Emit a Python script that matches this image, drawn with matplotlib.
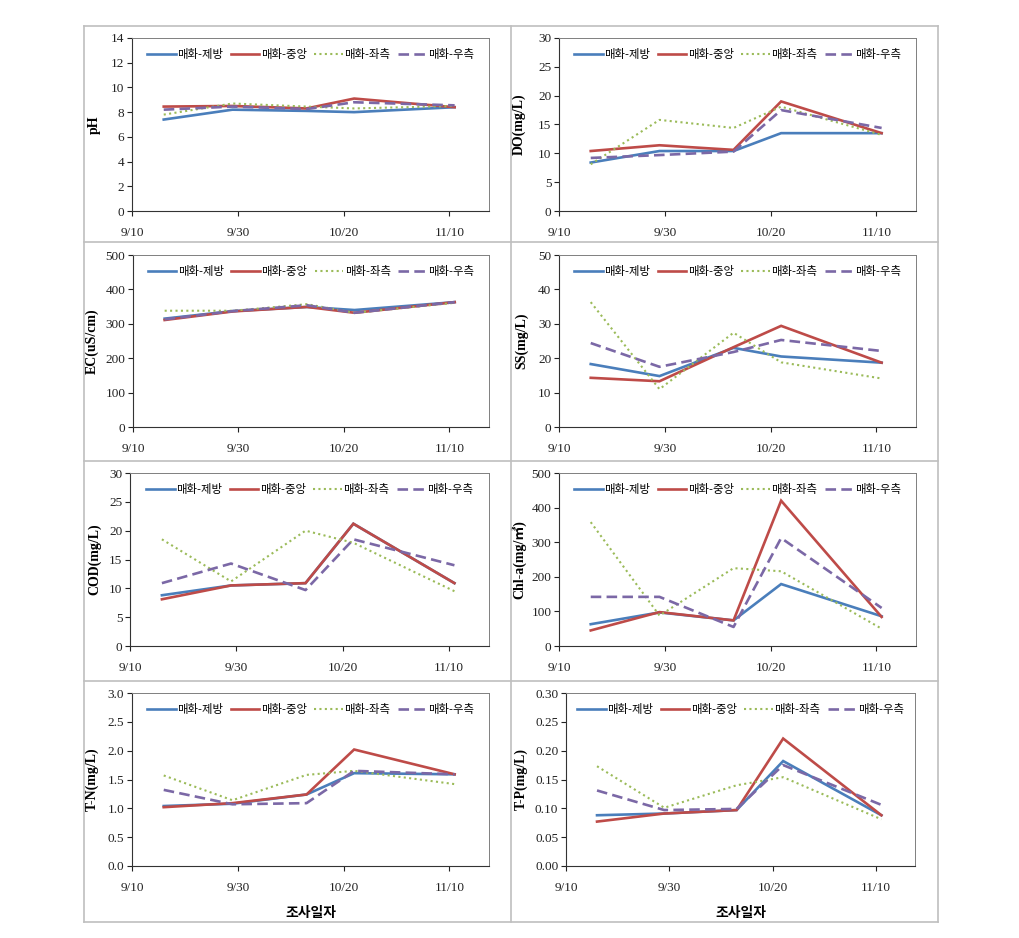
import matplotlib.pyplot as plt
from matplotlib.lines import Line2D
from matplotlib.ticker import FormatStrFormatter

# ── Sampling days (days after 9/10) and site names ──
days = [6, 19, 33, 42, 61]
tick_days = [0, 20, 40, 60]
tick_labels = ["9/10", "9/30", "10/20", "11/10"]
sites = ["매화-제방", "매화-중앙", "매화-좌측", "매화-우측"]

# ── Measured values per parameter (제방, 중앙, 좌측, 우측) ──
ph = [
    [7.4, 8.2, 8.1, 8.0, 8.4],
    [8.45, 8.5, 8.3, 9.1, 8.4],
    [7.8, 8.7, 8.45, 8.3, 8.5],
    [8.2, 8.45, 8.25, 8.8, 8.55],
]
do = [
    [8.4, 10.4, 10.4, 13.5, 13.5],
    [10.4, 11.4, 10.6, 19.0, 13.5],
    [8.1, 15.8, 14.4, 18.1, 13.2],
    [9.2, 9.7, 10.3, 17.5, 14.4],
]
ec = [
    [315, 337, 349, 340, 363],
    [311, 336, 349, 332, 363],
    [338, 338, 357, 332, 361],
    [313, 337, 354, 332, 363],
]
ss = [
    [18.3, 14.8, 23.0, 20.5, 18.7],
    [14.3, 13.3, 23.2, 29.4, 18.7],
    [36.3, 11.0, 27.4, 18.8, 14.1],
    [24.4, 17.5, 21.8, 25.3, 22.1],
]
cod = [
    [8.8, 10.5, 10.9, 21.2, 10.9],
    [8.1, 10.5, 10.9, 21.2, 10.9],
    [18.5, 11.2, 20.0, 17.9, 9.5],
    [10.9, 14.3, 9.7, 18.5, 14.0],
]
chla = [
    [63, 97, 74, 179, 86],
    [45, 98, 74, 420, 84],
    [358, 88, 225, 216, 50],
    [142, 142, 55, 312, 110],
]
tn = [
    [1.04, 1.08, 1.24, 1.61, 1.59],
    [1.02, 1.09, 1.24, 2.02, 1.59],
    [1.57, 1.14, 1.58, 1.65, 1.42],
    [1.32, 1.07, 1.09, 1.65, 1.59],
]
tp = [
    [0.088, 0.091, 0.097, 0.182, 0.088],
    [0.077, 0.091, 0.097, 0.221, 0.088],
    [0.173, 0.101, 0.140, 0.154, 0.081],
    [0.131, 0.097, 0.099, 0.175, 0.106],
]

# ── Excel-like styles for the four sites ──
colors = ["#4A7EBB", "#BE4B48", "#9BBB59", "#7B68A6"]
styles = [
    dict(linestyle="-", linewidth=1.9),
    dict(linestyle="-", linewidth=1.9),
    dict(linestyle=(0, (1, 1.6)), linewidth=1.5),
    dict(linestyle=(0, (4, 2)), linewidth=1.9),
]

W, H = 1019, 938
fig = plt.figure(figsize=(W / 100, H / 100), dpi=100)

serif = ["Liberation Serif", "Noto Sans CJK KR"]
korean = ["Noto Sans CJK KR", "DejaVu Sans"]


def px_axes(left, top, right, bottom):
    return fig.add_axes([left / W, 1 - bottom / H, (right - left) / W, (bottom - top) / H])


# (box, series, ylabel, ymax, ystep, fmt, label x in px)
panels = [
    ((132, 38, 489, 211), ph, "pH", 14, 2, "%d", 101),
    ((559, 38, 916, 211), do, "DO(mg/L)", 30, 5, "%d", 526),
    ((133, 255, 489, 427), ec, "EC(uS/cm)", 500, 100, "%d", 99),
    ((559, 255, 916, 427), ss, "SS(mg/L)", 50, 10, "%d", 528),
    ((130, 473, 489, 646), cod, "COD(mg/L)", 30, 5, "%d", 101),
    ((559, 473, 916, 646), chla, "Chl-a(mg/㎥)", 500, 100, "%d", 526),
    ((132, 693, 489, 866), tn, "T-N(mg/L)", 3.0, 0.5, "%.1f", 99),
    ((566, 693, 915, 866), tp, "T-P(mg/L)", 0.30, 0.05, "%.2f", 528),
]

for idx, (box, series, ylabel, ymax, ystep, fmt, lab_x) in enumerate(panels):
    ax = px_axes(*box)
    for vals, name, c, st in zip(series, sites, colors, styles):
        ax.plot(days, vals, color=c, label=name, solid_joinstyle="miter", **st)

    ax.set_xlim(0, 67.5)
    ax.set_ylim(0, ymax)
    n = int(round(ymax / ystep))
    ax.set_yticks([ystep * i for i in range(n + 1)])
    ax.yaxis.set_major_formatter(FormatStrFormatter(fmt))
    ax.set_xticks(tick_days)
    ax.set_xticklabels(tick_labels)
    ax.tick_params(axis="both", direction="out", length=3.5, width=0.8,
                   labelsize=9.5, pad=2, colors="#222222")
    for lab in ax.get_xticklabels() + ax.get_yticklabels():
        lab.set_family(serif)
    ax.tick_params(axis="x", pad=8)

    for side in ["left", "bottom"]:
        ax.spines[side].set_color("#333333")
        ax.spines[side].set_linewidth(0.8)
    for side in ["top", "right"]:
        ax.spines[side].set_color("#7F7F7F")
        ax.spines[side].set_linewidth(0.7)

    ax.set_ylabel(ylabel, fontsize=10, fontweight="bold", family=serif)
    left, top, right, bottom = box
    ax.yaxis.set_label_coords((lab_x - left) / (right - left), 0.5)

    ax.legend(loc="center", bbox_to_anchor=(0.5, 0.905), ncol=4, frameon=False,
              prop={"family": korean, "size": 8.2}, handlelength=2.5,
              handletextpad=0.15, columnspacing=0.65, borderaxespad=0)

    if idx >= 6:
        ax.set_xlabel("조사일자", fontsize=10, fontweight="bold", family=korean, labelpad=9)

# ── Light gray table frame around the panels ──
frame_c = "#BFBFBF"
xs = [84, 511, 938]
ys = [26, 242, 461, 681, 922]
for x in xs:
    fig.add_artist(Line2D([x / W, x / W], [1 - ys[0] / H, 1 - ys[-1] / H],
                          color=frame_c, linewidth=1.2))
for y in ys:
    fig.add_artist(Line2D([xs[0] / W, xs[-1] / W], [1 - y / H, 1 - y / H],
                          color=frame_c, linewidth=1.2))

plt.savefig("out.png", dpi=100)
